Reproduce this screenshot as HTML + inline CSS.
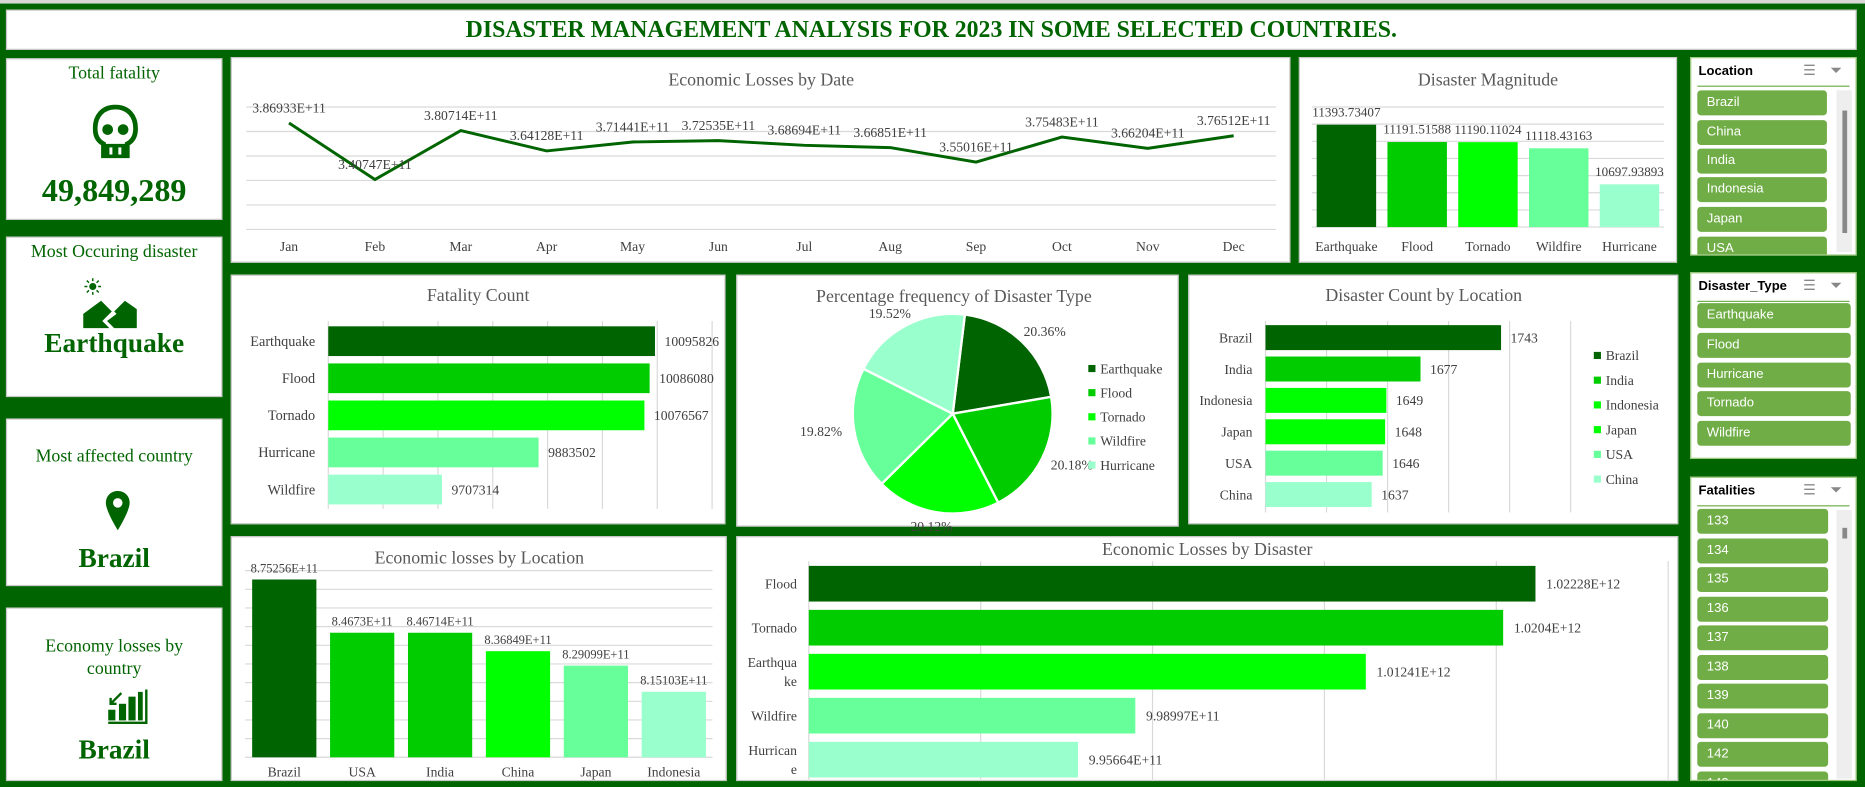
<!DOCTYPE html>
<html><head><meta charset="utf-8">
<style>
html,body{margin:0;padding:0;background:#006400;overflow:hidden;width:1865px;height:787px}
#root{position:absolute;left:0;top:0;width:1568px;height:662px;transform-origin:0 0;transform:scale(1.18941,1.18882);background:#006400;font-family:"Liberation Serif",serif}
.panel{position:absolute;background:#fff;border:1px solid #c8c8c8;box-sizing:border-box}
.card-t{position:absolute;left:0;right:0;text-align:center;color:#006400;font-size:15px}
.card-v{position:absolute;left:0;right:0;text-align:center;color:#006400;font-weight:bold}
.slicer{position:absolute;background:#fff;border:1px solid #9bc97a;box-sizing:border-box;font-family:"Liberation Sans","DejaVu Sans",sans-serif;overflow:hidden}
.sl-h{position:absolute;left:6px;top:5px;font-weight:bold;font-size:11px;color:#000}
.sl-line{position:absolute;left:5px;right:5px;top:23px;height:1px;background:#70ad47}
.sl-i{position:absolute;left:5px;height:21px;background:#70ad47;border-radius:3px;color:#fff;font-size:11px;line-height:21px;padding-left:8px;box-sizing:border-box}
.sl-ic{position:absolute;top:3px;font-size:12px;color:#888}
.track{position:absolute;background:#eeeeee}
.thumb{position:absolute;background:#888}
</style></head>
<body>
<div id="root">
<div style="position:absolute;left:0;top:0;width:1568px;height:3px;background:#d8d8d8"></div>
<div class="panel" style="left:5px;top:8px;width:1556px;height:34px;text-align:center;color:#006400;font-weight:bold;font-size:20px;line-height:32px">DISASTER MANAGEMENT ANALYSIS FOR 2023 IN SOME SELECTED COUNTRIES.</div>

<div class="panel" style="left:5px;top:49px;width:182px;height:136px">
 <div class="card-t" style="top:4px">Total fatality</div>
 <svg style="position:absolute;left:72px;top:38px" width="38" height="50" viewBox="0 0 38 50">
  <path d="M19 2C8 2 2 10 2 20c0 7 3 11 7 13v10h20V33c4-2 7-6 7-13C36 10 30 2 19 2z" fill="none" stroke="#006400" stroke-width="4"/>
  <circle cx="12.5" cy="21" r="4.5" fill="#006400"/><circle cx="25.5" cy="21" r="4.5" fill="#006400"/>
  <path d="M9 33h20v10H9z" fill="#006400"/><rect x="14" y="36" width="2.5" height="6" fill="#fff"/><rect x="21.5" y="36" width="2.5" height="6" fill="#fff"/>
 </svg>
 <div class="card-v" style="top:95px;font-size:27px">49,849,289</div>
</div>
<div class="panel" style="left:5px;top:199px;width:182px;height:135px">
 <div class="card-t" style="top:4px">Most Occuring disaster</div>
 <svg style="position:absolute;left:62px;top:34px" width="58" height="44" viewBox="0 0 58 44">
  <circle cx="10" cy="7" r="3" fill="#006400"/>
  <g stroke="#006400" stroke-width="1.2"><line x1="10" y1="0" x2="10" y2="2.5"/><line x1="10" y1="11.5" x2="10" y2="14"/><line x1="3" y1="7" x2="5.5" y2="7"/><line x1="14.5" y1="7" x2="17" y2="7"/><line x1="5" y1="2" x2="6.8" y2="3.8"/><line x1="13.2" y1="10.2" x2="15" y2="12"/><line x1="15" y1="2" x2="13.2" y2="3.8"/><line x1="5" y1="12" x2="6.8" y2="10.2"/></g>
  <polygon points="2,30 17,19 26,28 18,36 24,42 2,42" fill="#006400"/>
  <polygon points="28,28 37,19 47,26 47,42 28,42 22,36 30,30" fill="#006400"/>
 </svg>
 <div class="card-v" style="top:76px;font-size:23px">Earthquake</div>
</div>
<div class="panel" style="left:5px;top:352px;width:182px;height:141px">
 <div class="card-t" style="top:23px">Most affected country</div>
 <svg style="position:absolute;left:82px;top:59px" width="22" height="36" viewBox="0 0 22 36">
  <path d="M11 1C5 1 1 5.5 1 11c0 7 10 23 10 23s10-16 10-23C21 5.5 17 1 11 1z" fill="#006400"/><circle cx="11" cy="11" r="4" fill="#fff"/>
 </svg>
 <div class="card-v" style="top:104px;font-size:23px">Brazil</div>
</div>
<div class="panel" style="left:5px;top:511px;width:182px;height:146px">
 <div class="card-t" style="top:23px;line-height:19px">Economy losses by<br>country</div>
 <svg style="position:absolute;left:84px;top:68px" width="36" height="30" viewBox="0 0 36 30">
  <rect x="1" y="27" width="33" height="2" fill="#006400"/><rect x="32" y="0" width="2" height="29" fill="#006400"/>
  <rect x="1" y="17" width="6" height="9" fill="#006400"/><rect x="10" y="12" width="6" height="14" fill="#006400"/><rect x="18" y="6" width="6" height="20" fill="#006400"/><rect x="26" y="2" width="4" height="24" fill="#006400"/>
  <path d="M12 3L3 12M3 7v5h5" stroke="#006400" stroke-width="2" fill="none"/>
 </svg>
 <div class="card-v" style="top:106px;font-size:23px">Brazil</div>
</div>

<div class="panel" style="left:194px;top:48px;width:891px;height:173px"></div>
<div class="panel" style="left:1092px;top:48px;width:318px;height:173px"></div>
<div class="panel" style="left:194px;top:231px;width:416px;height:210px"></div>
<div class="panel" style="left:619px;top:231px;width:372px;height:212px"></div>
<div class="panel" style="left:999px;top:231px;width:412px;height:210px"></div>
<div class="panel" style="left:194px;top:451px;width:417px;height:206px"></div>
<div class="panel" style="left:619px;top:451px;width:792px;height:206px"></div>

<div class="slicer" style="left:1421px;top:48px;width:140px;height:167px">
 <div class="sl-h">Location</div>
 <div class="sl-ic" style="left:94px">☰</div>
 <div class="sl-ic" style="left:117px">⏷</div>
 <div class="sl-line"></div>
 <div class="sl-i" style="top:27px;width:109px">Brazil</div>
 <div class="sl-i" style="top:52px;width:109px">China</div>
 <div class="sl-i" style="top:76px;width:109px">India</div>
 <div class="sl-i" style="top:100px;width:109px">Indonesia</div>
 <div class="sl-i" style="top:125px;width:109px">Japan</div>
 <div class="sl-i" style="top:150px;width:109px">USA</div>
 <div class="track" style="left:122px;top:27px;width:13px;height:136px"></div>
 <div class="thumb" style="left:127px;top:44px;width:4px;height:103px"></div>
</div>
<div class="slicer" style="left:1421px;top:229px;width:140px;height:157px">
 <div class="sl-h">Disaster_Type</div>
 <div class="sl-ic" style="left:94px">☰</div>
 <div class="sl-ic" style="left:117px">⏷</div>
 <div class="sl-line"></div>
 <div class="sl-i" style="top:25px;width:129px">Earthquake</div>
 <div class="sl-i" style="top:50px;width:129px">Flood</div>
 <div class="sl-i" style="top:75px;width:129px">Hurricane</div>
 <div class="sl-i" style="top:99px;width:129px">Tornado</div>
 <div class="sl-i" style="top:124px;width:129px">Wildfire</div>
</div>
<div class="slicer" style="left:1421px;top:401px;width:140px;height:256px">
 <div class="sl-h">Fatalities</div>
 <div class="sl-ic" style="left:94px">☰</div>
 <div class="sl-ic" style="left:117px">⏷</div>
 <div class="sl-line"></div>
 <div id="fatal-items"></div>
 <div class="track" style="left:122px;top:27px;width:13px;height:226px"></div>
 <div class="thumb" style="left:127px;top:42px;width:4px;height:9px"></div>
</div>

<svg id="charts" style="position:absolute;left:0;top:0" width="1568" height="662" font-family="Liberation Serif, serif"></svg>
</div>

<script>
// ---------- data ----------
const months = ["Jan","Feb","Mar","Apr","May","Jun","Jul","Aug","Sep","Oct","Nov","Dec"];
const lossByMonth = [3.86933e11,3.40747e11,3.80714e11,3.64128e11,3.71441e11,3.72535e11,3.68694e11,3.66851e11,3.55016e11,3.75483e11,3.66204e11,3.76512e11];
const lossByMonthLabels = ["3.86933E+11","3.40747E+11","3.80714E+11","3.64128E+11","3.71441E+11","3.72535E+11","3.68694E+11","3.66851E+11","3.55016E+11","3.75483E+11","3.66204E+11","3.76512E+11"];
const magCats = ["Earthquake","Flood","Tornado","Wildfire","Hurricane"];
const magVals = [11393.73407,11191.51588,11190.11024,11118.43163,10697.93893];
const fatCats = ["Earthquake","Flood","Tornado","Hurricane","Wildfire"];
const fatVals = [10095826,10086080,10076567,9883502,9707314];
const pieCats = ["Earthquake","Flood","Tornado","Wildfire","Hurricane"];
const pieVals = [20.36,20.18,20.12,19.82,19.52];
const locCats = ["Brazil","India","Indonesia","Japan","USA","China"];
const locCounts = [1743,1677,1649,1648,1646,1637];
const elocCats = ["Brazil","USA","India","China","Japan","Indonesia"];
const elocVals = [8.75256e11,8.4673e11,8.46714e11,8.36849e11,8.29099e11,8.15103e11];
const elocLabels = ["8.75256E+11","8.4673E+11","8.46714E+11","8.36849E+11","8.29099E+11","8.15103E+11"];
const edisCats = [["Flood"],["Tornado"],["Earthqua","ke"],["Wildfire"],["Hurrican","e"]];
const edisVals = [1.02228e12,1.0204e12,1.01241e12,9.98997e11,9.95664e11];
const edisLabels = ["1.02228E+12","1.0204E+12","1.01241E+12","9.98997E+11","9.95664E+11"];
const fatalItems = ["133","134","135","136","137","138","139","140","142","143"];
const palette = ["#006400","#00cc00","#00ff00","#66ff99","#99ffcc"];
const locColors = ["#006400","#00cc00","#00ff00","#00ff00","#66ff99","#99ffcc"];
const elocColors = ["#006400","#00cc00","#00cc00","#00ff00","#66ff99","#99ffcc"];

const NS="http://www.w3.org/2000/svg";
const svg=document.getElementById('charts');
function mk(tag,attrs,parent){const e=document.createElementNS(NS,tag);for(const k in attrs)e.setAttribute(k,attrs[k]);(parent||svg).appendChild(e);return e;}
function txt(x,y,s,size,fill,anchor,parent){const t=mk('text',{x:x,y:y,'font-size':size,fill:fill,'text-anchor':anchor||'middle'},parent);t.textContent=s;return t;}
function grid(x1,y1,x2,y2,parent){const l=mk('line',{x1:x1,y1:y1,x2:x2,y2:y2,stroke:'#d9d9d9','stroke-width':1},parent);return l;}

// ---------- Economic losses by date ----------
{
 const g=mk('g',{});
 
 
 const t=txt(640,72,'Economic Losses by Date',15,'#595959','middle',g);
 
 
 const x=i=>243+i*72.2, y=v=>193-(v-3.0e11)/1.0e11*103;
 for(let v=3.0e11;v<=4.0001e11;v+=0.2e11) grid(207,y(v),1073,y(v),g);
 const pts=lossByMonth.map((v,i)=>x(i)+','+y(v)).join(' ');
 const line=mk('polyline',{points:pts,fill:'none',stroke:'#006400','stroke-width':2.5},g);
 
 
 lossByMonth.forEach((v,i)=>{
  const l=txt(x(i),y(v)-9,lossByMonthLabels[i],11.5,'#404040','middle',g);
  
  
  const m=txt(x(i),211,months[i],11.5,'#404040','middle',g);
  
  
 });
}

// ---------- Disaster magnitude ----------
{
 const g=mk('g',{});
 
 
 const t=txt(1251,72,'Disaster Magnitude',15,'#595959','middle',g);
 
 
 const y=v=>191-(v-10200)/1400*101, cx=i=>1132+i*59.5;
 for(let v=10200;v<=11600;v+=200) grid(1103,y(v),1399,y(v),g);
 magVals.forEach((v,i)=>{
  const b=mk('rect',{x:cx(i)-25,y:y(v),width:50,height:191-y(v),fill:palette[i]},g);
  
  
  const l=txt(cx(i),y(v)-7,String(v),11,'#404040','middle',g);
  
  
  const c=txt(cx(i),211,magCats[i],11.5,'#404040','middle',g);
  
  
 });
}

// ---------- Fatality count ----------
{
 const g=mk('g',{});
 
 
 const t=txt(402,253,'Fatality Count',15,'#595959','middle',g);
 
 
 const x=v=>276+(v-9.5e6)/1e5*46.1, cy=i=>287+i*31.2;
 for(let v=9.5e6;v<=10.2001e6;v+=1e5) grid(x(v),270,x(v),428,g);
 fatVals.forEach((v,i)=>{
  const b=mk('rect',{x:276,y:cy(i)-12.5,width:x(v)-276,height:25,fill:palette[i]},g);
  
  
  const l=txt(x(v)+8,cy(i)+4,String(v),11.5,'#404040','start',g);
  
  
  const c=txt(265,cy(i)+4,fatCats[i],12,'#404040','end',g);
  
  
 });
}

// ---------- Pie ----------
{
 const g=mk('g',{});
 
 
 const t=txt(802,254,'Percentage frequency of Disaster Type',15,'#595959','middle',g);
 
 
 const cx=801,cy=348,r=84,total=pieVals.reduce((a,b)=>a+b,0);
 let a=7*Math.PI/180;
 pieVals.forEach((v,i)=>{
  const da=v/total*2*Math.PI, a2=a+da;
  const p=(ang,rr)=>[cx+rr*Math.sin(ang),cy-rr*Math.cos(ang)];
  const [x1,y1]=p(a,r),[x2,y2]=p(a2,r);
  const s=mk('path',{d:`M${cx},${cy}L${x1},${y1}A${r},${r} 0 ${da>Math.PI?1:0} 1 ${x2},${y2}Z`,fill:palette[i],stroke:'#fff','stroke-width':2},g);
  
  
  const [lx,ly]=p(a+da/2,r+12);
  const sx=Math.sin(a+da/2);
  const l=txt(lx+sx*16,ly+4,v.toFixed(2)+'%',11.5,'#404040','middle',g);
  
  
  const m=mk('rect',{x:915,y:307+i*20.3,width:6,height:6,fill:palette[i]},g);
  
  
  const lt=txt(925,314+i*20.3,pieCats[i],11.5,'#404040','start',g);
  
  
  a=a2;
 });
}

// ---------- Disaster count by location ----------
{
 const g=mk('g',{});
 
 
 const t=txt(1197,253,'Disaster Count by Location',15,'#595959','middle',g);
 
 
 const x=v=>1064+(v-1550)*1.026, cy=i=>284+i*26.4;
 for(let v=1550;v<=1800;v+=50) grid(x(v),270,x(v),431,g);
 locCounts.forEach((v,i)=>{
  const b=mk('rect',{x:1064,y:cy(i)-10.5,width:x(v)-1064,height:21,fill:locColors[i]},g);
  
  
  const l=txt(x(v)+8,cy(i)+4,String(v),11.5,'#404040','start',g);
  
  
  const c=txt(1053,cy(i)+4,locCats[i],11.5,'#404040','end',g);
  
  
  const m=mk('rect',{x:1340,y:296+i*20.8,width:6,height:6,fill:locColors[i]},g);
  
  
  const lt=txt(1350,303+i*20.8,locCats[i],11.5,'#404040','start',g);
  
  
 });
}

// ---------- Economic losses by location ----------
{
 const g=mk('g',{});
 
 
 const t=txt(403,474,'Economic losses by Location',15,'#595959','middle',g);
 
 
 const y=v=>637-(v-7.8e11)/1e11*157, cx=i=>239+i*65.5;
 for(let v=7.8e11;v<=8.8001e11;v+=0.1e11) grid(206,y(v),599,y(v),g);
 elocVals.forEach((v,i)=>{
  const b=mk('rect',{x:cx(i)-27,y:y(v),width:54,height:637-y(v),fill:elocColors[i]},g);
  
  
  const l=txt(cx(i),y(v)-6,elocLabels[i],10.5,'#404040','middle',g);
  
  
  const c=txt(cx(i),653,elocCats[i],11.5,'#404040','middle',g);
  
  
 });
}

// ---------- Economic losses by disaster ----------
{
 const g=mk('g',{});
 
 
 const t=txt(1015,467,'Economic Losses by Disaster',15,'#595959','middle',g);
 
 
 const x=v=>680+(v-0.98e12)/0.01e12*144.5, cy=i=>491+i*37;
 for(let v=0.98e12;v<=1.03001e12;v+=0.01e12) grid(x(v),472,x(v),657,g);
 edisVals.forEach((v,i)=>{
  const b=mk('rect',{x:680,y:cy(i)-15,width:x(v)-680,height:30,fill:palette[i]},g);
  
  
  const l=txt(x(v)+9,cy(i)+4,edisLabels[i],11.5,'#404040','start',g);
  
  
  const lines=edisCats[i];
  lines.forEach((s,k)=>{
   const c=txt(670,cy(i)+4+(k-(lines.length-1)/2)*16,s,11.5,'#404040','end',g);
   
   
  });
 });
}

// ---------- fatalities slicer items ----------
{
 const box=document.getElementById('fatal-items');
 fatalItems.forEach((s,i)=>{
  const d=document.createElement('div');
  d.className='sl-i';
  d.style.top=(26+i*24.5)+'px';
  d.style.width='110px';
  d.textContent=s;
  
  
  box.appendChild(d);
 });
}
</script>
</body></html>
